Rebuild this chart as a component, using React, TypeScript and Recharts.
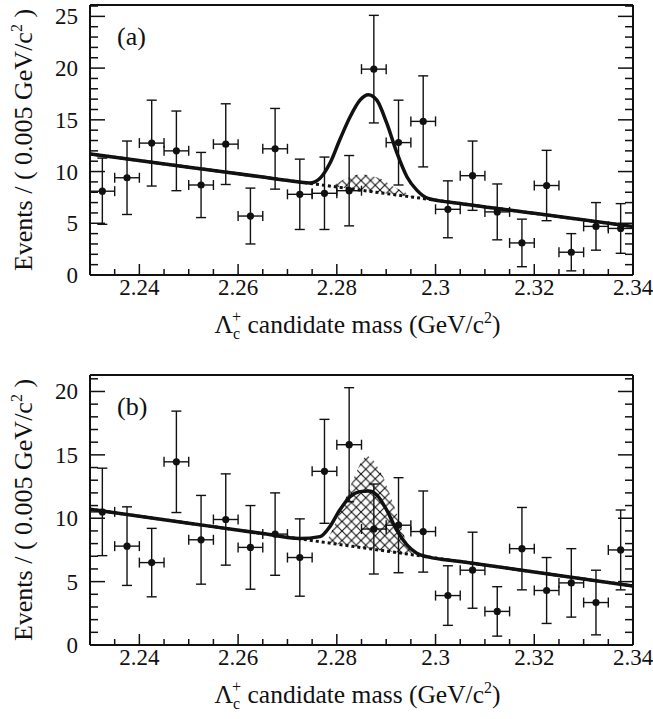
import React from 'react'
import { ComposedChart, XAxis, YAxis, Line, Area, Scatter, ErrorBar } from 'recharts'

const FONT = "'Liberation Serif', 'Times New Roman', serif"
const INK = '#111'
const fontStyle = { fontFamily: FONT }

// bin centres (0.005 GeV/c^2 bins)
const binCenters = [2.2325, 2.2375, 2.2425, 2.2475, 2.2525, 2.2575, 2.2625, 2.2675, 2.2725, 2.2775, 2.2825,
  2.2875, 2.2925, 2.2975, 2.3025, 2.3075, 2.3125, 2.3175, 2.3225, 2.3275, 2.3325, 2.3375]
const binHalfWidth = 0.0025

// panel (a)
const countsA = [8.1, 9.4, 12.75, 12.0, 8.7, 12.65, 5.7, 12.2, 7.8, 7.9, 8.15, 19.9, 12.8, 14.85, 6.35, 9.6, 6.1, 3.1, 8.65, 2.2, 4.7, 4.5]
const errA = [3.2, 3.55, 4.15, 3.85, 3.15, 3.9, 2.7, 3.9, 3.4, 3.5, 3.4, 5.2, 4.1, 4.4, 2.75, 3.35, 2.7, 2.3, 3.4, 1.8, 2.3, 2.4]
const fitXA = [2.23, 2.25, 2.265, 2.272, 2.2745, 2.2766, 2.2786, 2.2806, 2.2827, 2.2847, 2.2864, 2.2881, 2.2901,
  2.2921, 2.2942, 2.2962, 2.2985, 2.305, 2.32, 2.34]
const fitYA = [11.7, 10.42, 9.47, 9.02, 8.9, 9.36, 10.8, 13.07, 15.3, 16.9, 17.42, 16.9, 14.7,
  11.9, 9.5, 8.2, 7.4, 6.91, 5.96, 4.68]
const bgXA = [2.23, 2.34]
const bgYA = [11.7, 4.68]
const hatchXA = [2.279, 2.2813, 2.284, 2.286, 2.2888, 2.2914, 2.2942, 2.2955]
const hatchLowA = [8.57, 8.43, 8.25, 8.13, 7.95, 7.78, 7.6, 7.52]
const hatchHighA = [8.6, 9.2, 9.68, 9.68, 9.36, 8.55, 7.9, 7.52]

// panel (b)
const countsB = [10.5, 7.8, 6.5, 14.45, 8.3, 9.9, 7.7, 8.75, 6.9, 13.7, 15.8, 9.15, 9.45, 8.95, 3.9, 5.9, 2.65, 7.6, 4.3, 4.9, 3.35, 7.5]
const errB = [3.45, 3.1, 2.7, 4.0, 3.5, 3.6, 3.3, 3.25, 3.05, 4.1, 4.5, 3.55, 3.75, 3.2, 2.35, 3.0, 1.95, 3.25, 2.6, 2.7, 2.55, 3.15]
const fitXB = [2.23, 2.25, 2.265, 2.2725, 2.2766, 2.2786, 2.2806, 2.2827, 2.2847, 2.2864, 2.2881, 2.2901, 2.2921,
  2.2942, 2.2962, 2.2985, 2.305, 2.32, 2.34]
const fitYB = [10.71, 9.61, 8.79, 8.4, 8.55, 9.34, 10.65, 11.7, 12.1, 12.15, 11.84, 10.65, 9.08,
  7.9, 7.24, 6.95, 6.59, 5.76, 4.66]
const bgXB = [2.23, 2.34]
const bgYB = [10.71, 4.66]
const hatchXB = [2.2779, 2.2806, 2.2827, 2.2847, 2.286, 2.2874, 2.2894, 2.2914, 2.2928, 2.2942, 2.2952]
const hatchLowB = [8.08, 7.93, 7.81, 7.7, 7.63, 7.55, 7.44, 7.33, 7.26, 7.18, 7.12]
const hatchHighB = [8.1, 10.4, 12.5, 14.3, 15.0, 14.6, 13.3, 11.2, 9.6, 8.0, 7.3]

// ticks
const xTicks = [2.23, 2.235, 2.24, 2.245, 2.25, 2.255, 2.26, 2.265, 2.27, 2.275, 2.28, 2.285, 2.29, 2.295,
  2.3, 2.305, 2.31, 2.315, 2.32, 2.325, 2.33, 2.335, 2.34]
const xMajor = [2.24, 2.26, 2.28, 2.3, 2.32, 2.34]
const yTicksA = [0, 1, 2, 3, 4, 5, 6, 7, 8, 9, 10, 11, 12, 13, 14, 15, 16, 17, 18, 19, 20, 21, 22, 23, 24, 25, 26]
const yTicksB = [0, 1, 2, 3, 4, 5, 6, 7, 8, 9, 10, 11, 12, 13, 14, 15, 16, 17, 18, 19, 20, 21]
const yMajor = [0, 5, 10, 15, 20, 25]

const isIn = (v: number, list: number[]) => list.some((m) => Math.abs(m - v) < 1e-6)

const makePoints = (counts: number[], errs: number[]) =>
  binCenters.map((x, i) => ({ x, y: counts[i], ey: errs[i], ex: binHalfWidth }))
const makeLine = (xs: number[], ys: number[]) => xs.map((x, i) => ({ x, y: ys[i] }))
const makeBand = (xs: number[], lo: number[], hi: number[]) => xs.map((x, i) => ({ x, band: [lo[i], hi[i]] }))

const BottomTick = (props: any) => {
  const { x, y, payload } = props
  const major = isIn(payload.value, xMajor)
  return (
    <g>
      <line x1={x} x2={x} y1={y} y2={y - (major ? 11 : 6)} stroke={INK} strokeWidth={1.5} />
      {major && (
        <text x={x} y={y + 20} textAnchor="middle" fontSize={23} fontFamily={FONT} style={fontStyle} fill={INK}>
          {String(payload.value)}
        </text>
      )}
    </g>
  )
}

const TopTick = (props: any) => {
  const { x, y, payload } = props
  const major = isIn(payload.value, xMajor)
  return <line x1={x} x2={x} y1={y} y2={y + (major ? 11 : 6)} stroke={INK} strokeWidth={1.5} />
}

const LeftTick = (props: any) => {
  const { x, y, payload } = props
  const major = isIn(payload.value, yMajor)
  return (
    <g>
      <line x1={x} x2={x + (major ? 15 : 8)} y1={y} y2={y} stroke={INK} strokeWidth={1.5} />
      {major && (
        <text x={x - 12} y={y + 8} textAnchor="end" fontSize={23} fontFamily={FONT} style={fontStyle} fill={INK}>
          {payload.value}
        </text>
      )}
    </g>
  )
}

const RightTick = (props: any) => {
  const { x, y, payload } = props
  const major = isIn(payload.value, yMajor)
  return <line x1={x} x2={x - (major ? 15 : 8)} y1={y} y2={y} stroke={INK} strokeWidth={1.5} />
}

const xTitle = (props: any) => {
  const { x, y, width } = props.viewBox
  return (
    <text x={x + width / 2 - 4} y={y + 58} textAnchor="middle" fontSize={25.5} fontFamily={FONT} style={fontStyle} fill={INK}>
      Λ<tspan fontSize={16} dy={6}>c</tspan>
      <tspan fontSize={16} dx={-8} dy={-17}>+</tspan>
      <tspan dy={11}> candidate mass (GeV/c</tspan>
      <tspan fontSize={16} dy={-10}>2</tspan>
      <tspan dy={10}>)</tspan>
    </text>
  )
}

const yTitle = (panel: string) => (props: any) => {
  const { y, height } = props.viewBox
  const cy = y + height / 2
  return (
    <g>
      <text x={32} y={cy} transform={`rotate(-90 32 ${cy})`} textAnchor="middle" fontSize={26} fontFamily={FONT} style={fontStyle} fill={INK}>
        Events / ( 0.005 GeV/c<tspan fontSize={16} dy={-10}>2</tspan>
        <tspan dy={10}> )</tspan>
      </text>
      <text x={117} y={y + 40} fontSize={26} fontFamily={FONT} style={fontStyle} fill={INK}>
        ({panel})
      </text>
    </g>
  )
}

interface PanelProps {
  id: string
  label: string
  height: number
  topPad: number
  yMax: number
  yTicks: number[]
  counts: number[]
  errs: number[]
  fitX: number[]
  fitY: number[]
  bgX: number[]
  bgY: number[]
  hatchX: number[]
  hatchLow: number[]
  hatchHigh: number[]
}

function Panel(p: PanelProps) {
  const points = makePoints(p.counts, p.errs)
  const axisLine = { stroke: INK, strokeWidth: 2 }
  return (
    <ComposedChart width={653} height={p.height} margin={{ top: 0, right: 0, bottom: 0, left: 0 }}>
      <defs>
        <pattern id={`hatch-${p.id}`} patternUnits="userSpaceOnUse" width={9.5} height={9.5}>
          <path d="M-2,-2 L11.5,11.5 M11.5,-2 L-2,11.5" stroke={INK} strokeWidth={1.1} />
        </pattern>
      </defs>
      <XAxis
        dataKey="x"
        type="number"
        domain={[2.23, 2.34]}
        allowDataOverflow
        ticks={xTicks}
        interval={0}
        tickSize={0}
        tickMargin={0}
        height={p.height - p.topPad - 270}
        axisLine={axisLine}
        tick={BottomTick}
        label={xTitle}
      />
      <XAxis
        xAxisId="top"
        orientation="top"
        type="number"
        domain={[2.23, 2.34]}
        allowDataOverflow
        ticks={xTicks}
        interval={0}
        tickSize={0}
        tickMargin={0}
        height={p.topPad}
        axisLine={axisLine}
        tick={TopTick}
      />
      <YAxis
        type="number"
        domain={[0, p.yMax]}
        allowDataOverflow
        ticks={p.yTicks}
        interval={0}
        tickSize={0}
        tickMargin={0}
        width={90}
        axisLine={axisLine}
        tick={LeftTick}
        label={yTitle(p.label)}
      />
      <YAxis
        yAxisId="right"
        orientation="right"
        type="number"
        domain={[0, p.yMax]}
        allowDataOverflow
        ticks={p.yTicks}
        interval={0}
        tickSize={0}
        tickMargin={0}
        width={20}
        axisLine={axisLine}
        tick={RightTick}
      />
      <Area
        data={makeBand(p.hatchX, p.hatchLow, p.hatchHigh)}
        dataKey="band"
        type="linear"
        fill={`url(#hatch-${p.id})`}
        fillOpacity={1}
        stroke="none"
        isAnimationActive={false}
      />
      <Line
        data={makeLine(p.bgX, p.bgY)}
        dataKey="y"
        type="linear"
        stroke={INK}
        strokeWidth={3}
        strokeDasharray="3 3"
        dot={false}
        isAnimationActive={false}
      />
      <Line
        data={makeLine(p.fitX, p.fitY)}
        dataKey="y"
        type="monotone"
        stroke={INK}
        strokeWidth={3.5}
        dot={false}
        isAnimationActive={false}
      />
      <Scatter
        data={points}
        dataKey="y"
        isAnimationActive={false}
        shape={(s: any) => <circle cx={s.cx} cy={s.cy} r={3.6} fill={INK} />}
      >
        <ErrorBar dataKey="ey" direction="y" width={5} stroke={INK} strokeWidth={1.4} isAnimationActive={false} />
        <ErrorBar dataKey="ex" direction="x" width={5} stroke={INK} strokeWidth={1.4} isAnimationActive={false} />
      </Scatter>
    </ComposedChart>
  )
}

export default function App() {
  return (
    <div style={{ position: 'absolute', left: 0, top: 0, width: 653, height: 719, background: '#fff' }}>
      <Panel
        id="a"
        label="a"
        height={360}
        topPad={5}
        yMax={26.1}
        yTicks={yTicksA}
        counts={countsA}
        errs={errA}
        fitX={fitXA}
        fitY={fitYA}
        bgX={bgXA}
        bgY={bgYA}
        hatchX={hatchXA}
        hatchLow={hatchLowA}
        hatchHigh={hatchHighA}
      />
      <Panel
        id="b"
        label="b"
        height={359}
        topPad={15}
        yMax={21.3}
        yTicks={yTicksB}
        counts={countsB}
        errs={errB}
        fitX={fitXB}
        fitY={fitYB}
        bgX={bgXB}
        bgY={bgYB}
        hatchX={hatchXB}
        hatchLow={hatchLowB}
        hatchHigh={hatchHighB}
      />
    </div>
  )
}
